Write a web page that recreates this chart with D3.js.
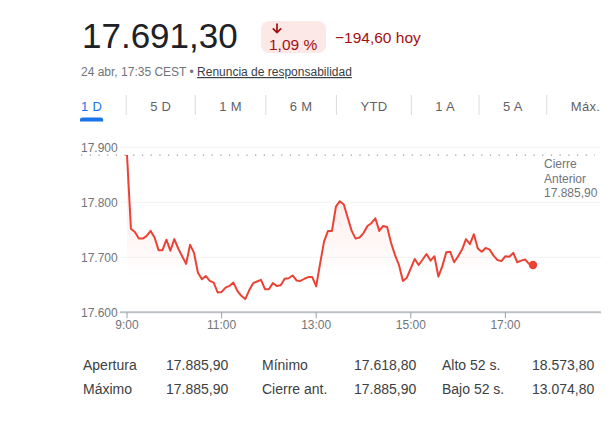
<!DOCTYPE html>
<html lang="es">
<head>
<meta charset="utf-8">
<title>17.691,30</title>
<script src="https://cdn.jsdelivr.net/npm/d3@7/dist/d3.min.js"></script>
<style>
  html, body { margin: 0; padding: 0; background: #fff; }
  svg { display: block; font-family: Arial, "Liberation Sans", sans-serif; }
  .grid line { stroke: #f1f3f4; }
  .ylab, .xlab, .prev { fill: #70757a; font-size: 12px; }
  .stat { fill: #3c4043; font-size: 14px; }
</style>
</head>
<body>
<svg id="chart" width="614" height="424"></svg>
<script>
// intraday quote, 5-minute closes from 9:00 to 17:35
const PRICE = '17.691,30';
const CHANGE_PCT = '1,09 %';
const CHANGE_ABS = '\u2212194,60 hoy';
const STAMP = '24 abr, 17:35 CEST \u2022 ';
const DISCLAIMER = 'Renuncia de responsabilidad';

const TABS = ['1 D', '5 D', '1 M', '6 M', 'YTD', '1 A', '5 A', 'Máx.'];

const START = '09:00';
const STEP_MIN = 5;
const values = [
  17885.9, 17752, 17746, 17734, 17734, 17739, 17748, 17736, 17713, 17713,
  17732, 17712, 17733, 17716, 17702, 17688, 17723, 17708, 17672, 17660,
  17666, 17657, 17654, 17636, 17637, 17645, 17648, 17654, 17639, 17630,
  17624, 17640, 17653, 17656, 17659, 17642, 17642, 17653, 17648, 17649,
  17661, 17662, 17667, 17658, 17657, 17661, 17664, 17664, 17647, 17689,
  17729, 17748, 17748, 17792, 17802, 17796, 17772, 17748, 17734, 17736,
  17744, 17757, 17762, 17771, 17748, 17757, 17755, 17726, 17704, 17686,
  17657, 17663, 17680, 17697, 17686, 17696, 17706, 17694, 17702, 17665,
  17684, 17709, 17710, 17691, 17702, 17714, 17733, 17724, 17742, 17716,
  17710, 17717, 17714, 17703, 17695, 17693, 17702, 17701, 17708, 17691,
  17694, 17696, 17688, 17686,
];
const PREV_CLOSE = 17885.9;
const PREV_LABEL = ['Cierre', 'Anterior', '17.885,90'];

const yTicks = [17600, 17700, 17800, 17900];
const xTicks = ['09:00', '11:00', '13:00', '15:00', '17:00'];
const X_DOMAIN = ['09:00', '19:00'];

const statLabels = [['Apertura', 'Máximo'], ['Mínimo', 'Cierre ant.'], ['Alto 52 s.', 'Bajo 52 s.']];
const statValues = [['17.885,90', '17.885,90'], ['17.618,80', '17.885,90'], ['18.573,80', '13.074,80']];

const RED = '#ea4335';
const DARK_RED = '#a50e0e';

const svg = d3.select('#chart');
const parse = d3.timeParse('%H:%M');
const t0 = parse(START);
const series = values.map((v, i) => ({ t: d3.timeMinute.offset(t0, i * STEP_MIN), v }));

// ---- header ----
svg.append('text').attr('x', 82).attr('y', 48)
  .attr('font-size', 35).attr('fill', '#202124').text(PRICE);

const badge = svg.append('g');
badge.append('rect').attr('x', 261).attr('y', 21).attr('width', 65).attr('height', 32)
  .attr('rx', 8).attr('fill', '#fce8e6');
badge.append('path')
  .attr('d', 'M277,23.5V32.5M272.8,28.3L277,32.5L281.2,28.3')
  .attr('fill', 'none').attr('stroke', DARK_RED).attr('stroke-width', 1.7);
badge.append('text').attr('x', 269).attr('y', 49.5)
  .attr('font-size', 15.5).attr('fill', DARK_RED).text(CHANGE_PCT);

svg.append('text').attr('x', 335).attr('y', 43)
  .attr('font-size', 15.5).attr('fill', DARK_RED).text(CHANGE_ABS);

const sub = svg.append('text').attr('x', 81).attr('y', 76).attr('font-size', 12);
sub.append('tspan').attr('fill', '#70757a').text(STAMP);
sub.append('tspan').attr('fill', '#3c4043').attr('text-decoration', 'underline').text(DISCLAIMER);

// ---- range tabs ----
const tabs = svg.append('g').attr('font-size', 13).attr('letter-spacing', 0.3);
let cursor = 81;
TABS.forEach((name, i) => {
  const t = tabs.append('text').attr('x', cursor).attr('y', 111)
    .attr('fill', i === 0 ? '#1a73e8' : '#5f6368').text(name);
  const w = t.node().getComputedTextLength();
  if (i === 0) {
    tabs.append('path')
      .attr('d', `M${cursor - 1},121.5V119.5Q${cursor - 1},117.5 ${cursor + 2},117.5H${cursor + w - 2}Q${cursor + w + 1},117.5 ${cursor + w + 1},119.5V121.5Z`)
      .attr('fill', '#1a73e8');
  }
  cursor += w + 24;
  if (i < TABS.length - 1) {
    tabs.append('line').attr('x1', cursor).attr('x2', cursor).attr('y1', 95).attr('y2', 115)
      .attr('stroke', '#dadce0');
    cursor += 24;
  }
});

// ---- chart ----
const x = d3.scaleTime().domain(X_DOMAIN.map(parse)).range([127, 600]);
const y = d3.scaleLinear().domain([17600, 17900]).range([312.3, 147.3]);
const fmtY = d3.formatLocale({ decimal: ',', thousands: '.', grouping: [3] }).format(',.0f');

const defs = svg.append('defs');
const grad = defs.append('linearGradient').attr('id', 'fade')
  .attr('gradientUnits', 'userSpaceOnUse')
  .attr('x1', 0).attr('x2', 0).attr('y1', y(17900)).attr('y2', y(17665));
grad.append('stop').attr('offset', 0).attr('stop-color', RED).attr('stop-opacity', 0.16);
grad.append('stop').attr('offset', 1).attr('stop-color', RED).attr('stop-opacity', 0);

svg.append('g').attr('class', 'grid')
  .selectAll('line').data(yTicks.slice(1)).join('line')
  .attr('x1', 120).attr('x2', 601)
  .attr('y1', (d) => y(d)).attr('y2', (d) => y(d));

svg.append('g').selectAll('text').data(yTicks).join('text')
  .attr('class', 'ylab')
  .attr('x', 81).attr('y', (d) => y(d)).attr('dy', '0.36em')
  .text((d) => fmtY(d));

// previous close reference
svg.append('line')
  .attr('x1', 81).attr('x2', 595)
  .attr('y1', y(PREV_CLOSE)).attr('y2', y(PREV_CLOSE))
  .attr('stroke', '#9aa0a6').attr('stroke-width', 1.2)
  .attr('stroke-dasharray', '1.3 7.4');
svg.append('text').attr('class', 'prev')
  .selectAll('tspan').data(PREV_LABEL).join('tspan')
  .attr('x', 544).attr('y', (d, i) => 168 + i * 14.6)
  .text((d) => d);

svg.append('path').datum(series)
  .attr('fill', 'url(#fade)')
  .attr('d', d3.area().x((d) => x(d.t)).y0(y(17600)).y1((d) => y(d.v)));

svg.append('path').datum(series)
  .attr('fill', 'none').attr('stroke', RED).attr('stroke-width', 2)
  .attr('stroke-linejoin', 'round')
  .attr('d', d3.line().x((d) => x(d.t)).y((d) => y(d.v)));

const last = series[series.length - 1];
svg.append('circle').attr('cx', x(last.t)).attr('cy', y(last.v)).attr('r', 4.2).attr('fill', RED);

// x axis
const gx = svg.append('g').attr('transform', `translate(0,${y(17600)})`);
gx.append('line').attr('x1', 120).attr('x2', 601).attr('stroke', '#bdc1c6').attr('stroke-width', 2);
gx.selectAll('line.tick').data(xTicks.map(parse)).join('line')
  .attr('class', 'tick')
  .attr('x1', (d) => x(d)).attr('x2', (d) => x(d)).attr('y1', 0).attr('y2', 6)
  .attr('stroke', '#9aa0a6');
gx.selectAll('text').data(xTicks.map(parse)).join('text')
  .attr('class', 'xlab').attr('text-anchor', 'middle')
  .attr('x', (d) => x(d)).attr('y', 17)
  .text(d3.timeFormat('%-H:%M'));

// ---- stats ----
const colX = [83, 166, 262, 354, 442, 532];
const rowY = [370, 393.5];
statLabels.forEach((pair, c) => {
  pair.forEach((lab, r) => {
    svg.append('text').attr('class', 'stat').attr('x', colX[c * 2]).attr('y', rowY[r]).text(lab);
    svg.append('text').attr('class', 'stat').attr('x', colX[c * 2 + 1]).attr('y', rowY[r]).text(statValues[c][r]);
  });
});
</script>
</body>
</html>
